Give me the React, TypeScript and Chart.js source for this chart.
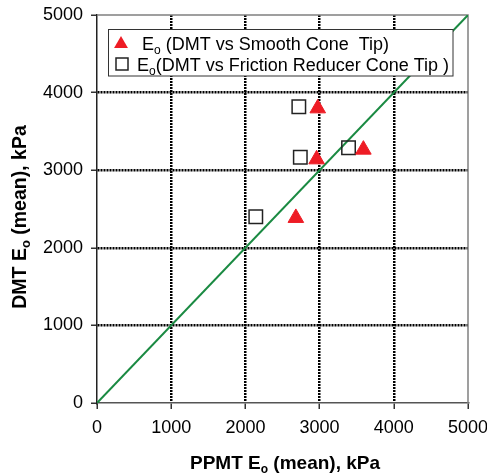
import React, { useEffect, useRef } from "react";
import { Chart, registerables } from "chart.js";

Chart.register(...registerables);

// ---- data ----
const AXIS_TICKS = [0, 1000, 2000, 3000, 4000, 5000];
const smoothConeX = [2680, 2960, 2975, 3590];
const smoothConeY = [2385, 3140, 3797, 3265];
const reducerConeX = [2140, 2720, 2740, 3390];
const reducerConeY = [2400, 3817, 3166, 3290];
const oneToOneX = [0, 5000];
const oneToOneY = [0, 5000];

const LEGEND_SMOOTH = ["E", "o", " (DMT vs Smooth Cone  Tip)"];
const LEGEND_REDUCER = ["E", "o", "(DMT vs Friction Reducer Cone Tip )"];
const X_TITLE = ["PPMT E", "o", " (mean), kPa"];
const Y_TITLE = ["DMT E", "o", " (mean), kPa"];

const FONT = "'Liberation Sans', Arial, Helvetica, sans-serif";
const RED = "#ee1c25";
const GREEN = "#1a8a42";

function zip(xs: number[], ys: number[]) {
  return xs.map((x, i) => ({ x, y: ys[i] }));
}

// draws [main, sub, main] text parts; returns total width
function drawParts(ctx: CanvasRenderingContext2D, parts: string[], x: number, y: number, size: number, bold: boolean, measureOnly = false) {
  const w = bold ? "bold " : "";
  const subSize = Math.round(size * 0.65);
  let cx = x;
  parts.forEach((p, i) => {
    const isSub = i === 1;
    ctx.font = `${w}${isSub ? subSize : size}px ${FONT}`;
    if (!measureOnly) ctx.fillText(p, cx, isSub ? y + size * 0.2 : y);
    cx += ctx.measureText(p).width;
  });
  return cx - x;
}

const decorPlugin = {
  id: "decor",
  beforeDatasetsDraw(chart: any) {
    const { ctx, chartArea: a } = chart;
    ctx.save();
    ctx.strokeStyle = "#808080";
    ctx.lineWidth = 1.5;
    ctx.beginPath();
    ctx.moveTo(a.left, a.top);
    ctx.lineTo(a.right, a.top);
    ctx.lineTo(a.right, a.bottom);
    ctx.stroke();
    ctx.restore();
  },
  afterDraw(chart: any) {
    const { ctx } = chart;
    ctx.save();
    // legend box
    const lx = 108.5, ly = 29.5, lw = 344.5, lh = 46.5;
    ctx.fillStyle = "#ffffff";
    ctx.fillRect(lx, ly, lw, lh);
    ctx.strokeStyle = "#333";
    ctx.lineWidth = 1;
    ctx.strokeRect(lx, ly, lw, lh);

    // triangle marker
    const r = 8;
    const tx = 121, ty = 44;
    ctx.fillStyle = RED;
    ctx.beginPath();
    ctx.moveTo(tx, ty - r);
    ctx.lineTo(tx + r * 0.866, ty + r / 2);
    ctx.lineTo(tx - r * 0.866, ty + r / 2);
    ctx.closePath();
    ctx.fill();
    // square marker
    ctx.strokeStyle = "#222";
    ctx.lineWidth = 1.5;
    ctx.strokeRect(116, 58, 12, 12);

    ctx.fillStyle = "#000";
    ctx.textBaseline = "alphabetic";
    ctx.textAlign = "left";
    drawParts(ctx, LEGEND_SMOOTH, 142, 50, 18, false);
    drawParts(ctx, LEGEND_REDUCER, 137, 71, 18, false);

    // axis titles
    const xw = drawParts(ctx, X_TITLE, 0, 0, 19, true, true);
    drawParts(ctx, X_TITLE, 285 - xw / 2, 469, 19, true);
    ctx.translate(26, 217);
    ctx.rotate(-Math.PI / 2);
    const yw = drawParts(ctx, Y_TITLE, 0, 0, 19.5, true, true);
    drawParts(ctx, Y_TITLE, -yw / 2, 0, 19.5, true);
    ctx.restore();
  },
};

function gridColor(c: any) {
  const v = c.tick ? c.tick.value : null;
  return v === 0 || v === 5000 ? "rgba(0,0,0,0)" : "#000";
}

export default function App() {
  const ref = useRef<HTMLCanvasElement | null>(null);
  useEffect(() => {
    if (!ref.current) return;
    const axis = (isY: boolean) => ({
      type: "linear" as const,
      min: 0,
      max: 5000,
      afterBuildTicks: (s: any) => {
        s.ticks = AXIS_TICKS.map((v) => ({ value: v }));
      },
      afterFit: (s: any) => {
        if (isY) {
          s.width = 97;
          s.paddingTop = 0;
          s.paddingBottom = 0;
        } else {
          s.height = 72;
          s.paddingLeft = 0;
          s.paddingRight = 0;
        }
      },
      ticks: {
        color: "#000",
        font: { family: FONT, size: 18 },
        padding: 8,
        callback: (v: any) => String(v),
      },
      grid: {
        color: gridColor,
        lineWidth: 2.5,
        drawTicks: true,
        tickLength: 6,
        tickColor: "#333",
        tickWidth: 1.5,
      },
      border: {
        display: true,
        color: isY ? "#222" : "#555",
        width: 1.5,
        dash: [2, 1],
      },
      title: { display: false },
    });

    const chart = new Chart(ref.current, {
      type: "scatter",
      data: {
        datasets: [
          {
            label: "Eo (DMT vs Smooth Cone Tip)",
            data: zip(smoothConeX, smoothConeY),
            pointStyle: "triangle",
            pointRadius: 9,
            backgroundColor: RED,
            borderColor: RED,
            borderWidth: 1,
            order: 1,
          },
          {
            label: "Eo (DMT vs Friction Reducer Cone Tip)",
            data: zip(reducerConeX, reducerConeY),
            pointStyle: "rect",
            pointRadius: 9.5,
            backgroundColor: "rgba(255,255,255,0)",
            borderColor: "#222",
            borderWidth: 1.5,
            order: 2,
          },
          {
            type: "line" as any,
            label: "1:1",
            data: zip(oneToOneX, oneToOneY),
            borderColor: GREEN,
            borderWidth: 2,
            pointRadius: 0,
            showLine: true,
            fill: false,
            order: 3,
          },
        ],
      },
      options: {
        responsive: false,
        animation: false,
        layout: { padding: { top: 15, right: 19, left: 0, bottom: 0 } },
        plugins: { legend: { display: false }, tooltip: { enabled: false } },
        scales: { x: axis(false), y: axis(true) },
      },
      plugins: [decorPlugin],
    } as any);
    return () => chart.destroy();
  }, []);

  return (
    <div style={{ position: "absolute", left: 0, top: 0, width: 487, height: 475, background: "#fff" }}>
      <canvas ref={ref} width={487} height={475} />
    </div>
  );
}
